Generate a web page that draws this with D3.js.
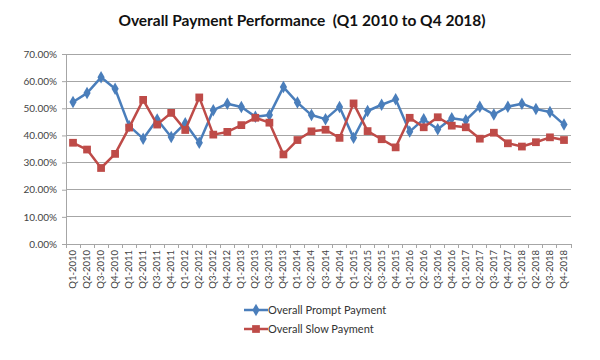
<!DOCTYPE html>
<html><head><meta charset="utf-8">
<script src="https://cdn.jsdelivr.net/npm/d3@7"></script>
<style>body{margin:0;background:#fff}svg{display:block}</style>
</head><body>
<svg id="c" width="600" height="360"></svg>
<script>
(function(){
const categories = ["Q1-2010","Q2-2010","Q3-2010","Q4-2010","Q1-2011","Q2-2011","Q3-2011","Q4-2011","Q1-2012","Q2-2012","Q3-2012","Q4-2012","Q1-2013","Q2-2013","Q3-2013","Q4-2013","Q1-2014","Q2-2014","Q3-2014","Q4-2014","Q1-2015","Q2-2015","Q3-2015","Q4-2015","Q1-2016","Q2-2016","Q3-2016","Q4-2016","Q1-2017","Q2-2017","Q3-2017","Q4-2017","Q1-2018","Q2-2018","Q3-2018","Q4-2018"];
const promptPayment = [52.3,55.6,61.4,57.2,43.5,38.8,45.9,39.4,44.5,37.3,49.3,51.7,50.5,46.9,47.5,57.8,52.1,47.5,46.0,50.5,39.1,49.0,51.3,53.3,41.4,46.0,42.3,46.3,45.6,50.6,47.7,50.6,51.7,49.7,48.6,44.0];
const slowPayment = [37.3,34.8,28.0,33.2,42.9,53.1,44.0,48.3,42.0,54.0,40.3,41.3,43.8,46.5,44.7,33.0,38.3,41.5,42.1,39.1,51.8,41.6,38.6,35.6,46.5,43.0,46.7,43.6,43.0,38.8,41.0,37.1,35.9,37.5,39.3,38.3];
const yTicks = [0,10,20,30,40,50,60,70];
const seriesNames = ["Overall Prompt Payment","Overall Slow Payment"];
const colors = ["#4A7EBB","#BE4B48"];

const svg = d3.select("#c");
const mLeft = 66, mRight = 571, mTop = 54, mBottom = 244;
const x = d3.scaleBand().domain(categories).range([mLeft, mRight]);
const y = d3.scaleLinear().domain([0,70]).range([mBottom, mTop]);
const font = "Lato, 'Open Sans', sans-serif";

svg.append("text").attr("x", 302).attr("y", 26).attr("text-anchor","middle")
  .attr("font-family", font).attr("font-weight","bold").attr("font-size",15.5)
  .attr("fill","#111").attr("xml:space","preserve")
  .text("Overall Payment Performance  (Q1 2010 to Q4 2018)");

svg.append("g").selectAll("line").data(yTicks.filter(d=>d>0)).join("line")
  .attr("x1", mLeft).attr("x2", mRight).attr("y1", d=>y(d)).attr("y2", d=>y(d))
  .attr("stroke","#a6a6a6").attr("stroke-width",1).attr("shape-rendering","crispEdges");

const yAxis = svg.append("g").attr("transform",`translate(${mLeft},0)`)
  .call(d3.axisLeft(y).tickValues(yTicks).tickSize(4).tickPadding(5).tickFormat(d=>d.toFixed(2)+"%"));
yAxis.select(".domain").attr("stroke","#a6a6a6");
yAxis.selectAll(".tick line").attr("stroke","#a6a6a6");
yAxis.selectAll("text").attr("font-family",font).attr("font-size",10).attr("fill","#444");

const xAxis = svg.append("g").attr("transform",`translate(0,${mBottom})`)
  .call(d3.axisBottom(x).tickSize(0).tickPadding(0));
xAxis.select(".domain").attr("stroke","#a6a6a6");
xAxis.selectAll(".tick text").attr("font-family",font).attr("font-size",9.5).attr("fill","#444")
  .attr("text-anchor","end").attr("dy",null)
  .attr("transform","translate(3,6) rotate(-90)");
svg.append("g").selectAll("line").data(d3.range(categories.length+1)).join("line")
  .attr("x1", i=>mLeft + i*x.step()).attr("x2", i=>mLeft + i*x.step())
  .attr("y1", mBottom).attr("y2", mBottom+4).attr("stroke","#a6a6a6").attr("shape-rendering","crispEdges");

const cx = d => x(d) + x.bandwidth()/2;
const series = [promptPayment, slowPayment];
series.forEach((vals, si) => {
  const pts = categories.map((c,i)=>[cx(c), y(vals[i])]);
  svg.append("path").attr("d", d3.line()(pts)).attr("fill","none")
    .attr("stroke", colors[si]).attr("stroke-width",2.5).attr("stroke-linejoin","round");
  const sym = si===0 ? d3.symbolDiamond : d3.symbolSquare;
  const size = si===0 ? 45 : 60;
  svg.append("g").selectAll("path").data(pts).join("path")
    .attr("transform", p=>`translate(${p[0]},${p[1]})`)
    .attr("d", d3.symbol().type(sym).size(size)()).attr("fill", colors[si]);
});

seriesNames.forEach((n, si) => {
  const ly = 310 + si*19;
  svg.append("line").attr("x1",244).attr("x2",268).attr("y1",ly).attr("y2",ly)
    .attr("stroke",colors[si]).attr("stroke-width",2.5);
  svg.append("path").attr("transform",`translate(256,${ly})`)
    .attr("d", d3.symbol().type(si===0?d3.symbolDiamond:d3.symbolSquare).size(si===0?45:60)())
    .attr("fill",colors[si]);
  svg.append("text").attr("x",268).attr("y",ly+4).attr("font-family",font).attr("font-size",11)
    .attr("fill","#333").text(n);
});
})();
</script>
</body></html>
